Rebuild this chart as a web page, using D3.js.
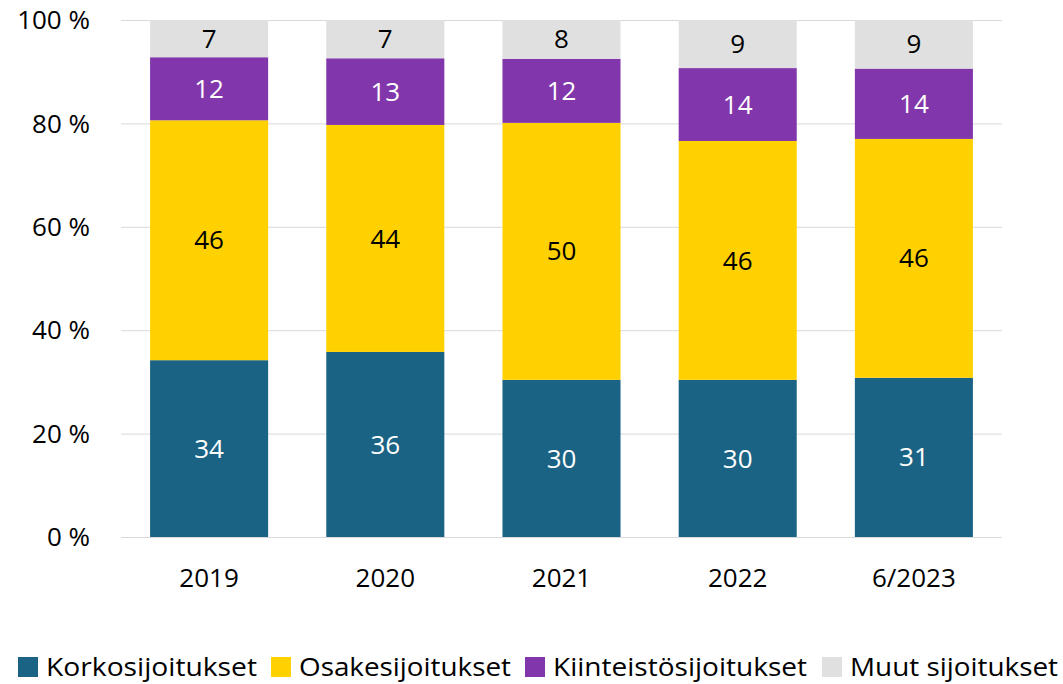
<!DOCTYPE html>
<html>
<head>
<meta charset="utf-8">
<script src="https://cdn.jsdelivr.net/npm/d3@7"></script>
<style>
  body { margin: 0; background: #fff; }
  svg { font-family: "Open Sans", "Noto Sans", sans-serif; }
</style>
</head>
<body>
<div id="chart"></div>
<script>
const years = ["2019", "2020", "2021", "2022", "6/2023"];
const seriesNames = ["Korkosijoitukset", "Osakesijoitukset", "Kiinteistösijoitukset", "Muut sijoitukset"];
const korko = [34.2, 35.8, 30.4, 30.4, 30.8];
const osake = [46.4, 43.9, 49.7, 46.2, 46.2];
const kiinteisto = [12.2, 12.9, 12.4, 14.1, 13.6];
const muut = [7.2, 7.4, 7.5, 9.3, 9.4];
const yTicks = [0, 20, 40, 60, 80, 100];

const colors = ["#1b6385", "#ffd100", "#8236ab", "#e0e0e0"];
const labelColors = ["#fff", "#000", "#fff", "#000"];

const width = 1063, height = 684;
const margin = { top: 20, right: 61, bottom: 147, left: 121 };

const svg = d3.select("#chart").append("svg")
  .attr("width", width)
  .attr("height", height);

const table = years.map((y, i) => ({
  year: y,
  s0: korko[i], s1: osake[i], s2: kiinteisto[i], s3: muut[i]
}));
const keys = ["s0", "s1", "s2", "s3"];
const stacked = d3.stack().keys(keys)(table);

const x = d3.scaleBand()
  .domain(years)
  .range([margin.left, width - margin.right])
  .paddingInner(0.33)
  .paddingOuter(0.165);

const y = d3.scaleLinear()
  .domain([0, 100])
  .range([height - margin.bottom, margin.top]);

// gridlines
svg.append("g")
  .selectAll("line")
  .data(yTicks)
  .join("line")
  .attr("x1", margin.left)
  .attr("x2", width - margin.right)
  .attr("y1", d => y(d) + 0.5)
  .attr("y2", d => y(d) + 0.5)
  .attr("stroke", "#d9d9d9")
  .attr("stroke-width", 1);

// y axis labels
svg.append("g")
  .selectAll("text")
  .data(yTicks)
  .join("text")
  .attr("x", 90)
  .attr("y", d => y(d))
  .attr("dy", "0.35em")
  .attr("text-anchor", "end")
  .attr("font-size", 26)
  .attr("fill", "#000")
  .text(d => d + " %");

// bars
const layers = svg.append("g")
  .selectAll("g")
  .data(stacked)
  .join("g")
  .attr("fill", (d, i) => colors[i]);

layers.selectAll("rect")
  .data(d => d)
  .join("rect")
  .attr("x", d => x(d.data.year))
  .attr("width", x.bandwidth())
  .attr("y", d => y(d[1]))
  .attr("height", d => y(d[0]) - y(d[1]));

// data labels
svg.append("g")
  .selectAll("g")
  .data(stacked)
  .join("g")
  .attr("fill", (d, i) => labelColors[i])
  .selectAll("text")
  .data(d => d.map(v => ({ v, key: d.key })))
  .join("text")
  .attr("x", d => x(d.v.data.year) + x.bandwidth() / 2)
  .attr("y", d => (y(d.v[0]) + y(d.v[1])) / 2)
  .attr("dy", "0.35em")
  .attr("text-anchor", "middle")
  .attr("font-size", 26)
  .text(d => Math.round(d.v.data[d.key]));

// x axis labels
svg.append("g")
  .selectAll("text")
  .data(years)
  .join("text")
  .attr("x", d => x(d) + x.bandwidth() / 2)
  .attr("y", 578)
  .attr("dy", "0.35em")
  .attr("text-anchor", "middle")
  .attr("font-size", 26)
  .attr("fill", "#000")
  .text(d => d);

// legend
const legendX = [18, 271, 525, 822];
const legendW = [211, 212, 254, 208];
const legend = svg.append("g")
  .selectAll("g")
  .data(seriesNames)
  .join("g")
  .attr("transform", (d, i) => `translate(${legendX[i]},657)`);

legend.append("rect")
  .attr("width", 20)
  .attr("height", 20)
  .attr("fill", (d, i) => colors[i]);

legend.append("text")
  .attr("x", 28)
  .attr("y", 10)
  .attr("dy", "0.35em")
  .attr("font-size", 25)
  .attr("fill", "#000")
  .attr("textLength", (d, i) => legendW[i])
  .attr("lengthAdjust", "spacingAndGlyphs")
  .text(d => d);
</script>
</body>
</html>
